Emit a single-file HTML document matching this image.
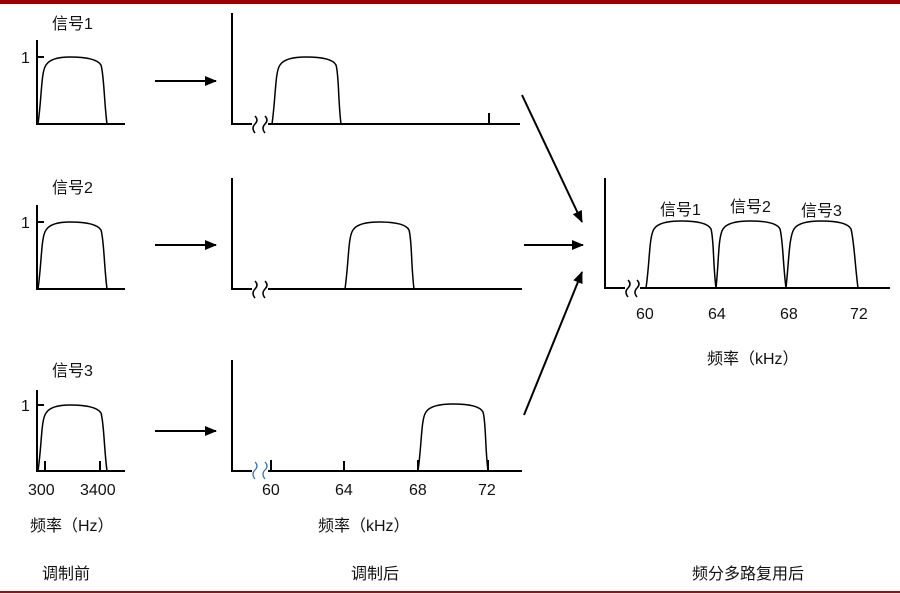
<!DOCTYPE html>
<html><head><meta charset="utf-8"><style>
html,body{margin:0;padding:0;background:#fff;}
svg{display:block;}
text{font-family:"Liberation Sans","Noto Sans CJK SC",sans-serif;font-size:16px;fill:#111;}
.ax{stroke:#000;stroke-width:2;fill:none;}
.c{stroke:#000;stroke-width:1.5;fill:none;}
.br{stroke:#2e6db4;stroke-width:1.2;fill:none;}
</style></head><body>
<svg width="900" height="594" viewBox="0 0 900 594" xmlns="http://www.w3.org/2000/svg">
<defs><marker id="ah" markerWidth="12" markerHeight="10" refX="11" refY="5" orient="auto" markerUnits="userSpaceOnUse"><path d="M0,0 L12,5 L0,10 z" fill="#000"/></marker></defs>
<rect x="0" y="0" width="900" height="4" fill="#9b0000"/>
<rect x="0" y="591" width="900" height="2" fill="#c00000"/>

<g>
<text x="52" y="29">信号1</text>
<path class="ax" d="M37,40 V124 H125 M37,57 H44"/>
<text x="21" y="63">1</text>
<path class="c" d="M38,124 C42,95 41,72 46,65 Q51,57 70,57 Q96,57 101,65 C104,75 104,100 107,124"/>

<text x="52" y="193">信号2</text>
<path class="ax" d="M37,205 V289 H125 M37,222 H44"/>
<text x="21" y="228">1</text>
<path class="c" d="M38,289 C42,260 41,237 46,230 Q51,222 70,222 Q96,222 101,230 C104,240 104,265 107,289"/>

<text x="52" y="376">信号3</text>
<path class="ax" d="M37,390 V471 H125 M37,405 H44 M45,471 V461 M100,471 V461"/>
<text x="21" y="411">1</text>
<path class="c" d="M38,471 C42,443 41,420 46,413 Q51,405 70,405 Q96,405 101,413 C104,423 104,448 107,471"/>
<text x="28" y="495">300</text>
<text x="80" y="495">3400</text>
<text x="30" y="531">频率（Hz）</text>
<text x="42" y="579">调制前</text>
</g>

<g stroke="#000" stroke-width="2" marker-end="url(#ah)">
<line x1="155" y1="81" x2="216" y2="81"/>
<line x1="155" y1="245" x2="216" y2="245"/>
<line x1="155" y1="431" x2="216" y2="431"/>
<line x1="522" y1="95" x2="582" y2="222"/>
<line x1="524" y1="245" x2="583" y2="245"/>
<line x1="524" y1="415" x2="582" y2="272"/>
</g>

<g>
<path class="ax" d="M232,13 V124 H252 M268,124 H520 M489,124 V113"/>
<path class="c" d="M255,116 q4,4 0,8 q-4,4 0,9 M265,116 q4,4 0,8 q-4,4 0,9"/>
<path class="c" d="M272,124 C276,95 275,72 280,65 Q285,57 306,57 Q332,57 336,65 C339,75 338,100 341,124"/>

<path class="ax" d="M232,178 V289 H252 M268,289 H522"/>
<path class="c" d="M255,281 q4,4 0,8 q-4,4 0,9 M265,281 q4,4 0,8 q-4,4 0,9"/>
<path class="c" d="M345,289 C349,260 348,237 353,230 Q358,222 379,222 Q405,222 409,230 C412,240 411,265 414,289"/>

<path class="ax" d="M232,360 V471 H252 M268,471 H522 M271,471 V460 M344,471 V461 M418,471 V460 M488,471 V460"/>
<path class="br" d="M255,462 q4,4 0,8 q-4,4 0,9 M265,462 q4,4 0,8 q-4,4 0,9"/>
<path class="c" d="M418,471 C422,442 421,419 426,412 Q431,404 453,404 Q479,404 483,412 C486,422 485,447 488,471"/>
<text x="262" y="495">60</text>
<text x="335" y="495">64</text>
<text x="409" y="495">68</text>
<text x="478" y="495">72</text>
<text x="318" y="531">频率（kHz）</text>
<text x="351" y="579">调制后</text>
</g>

<g>
<path class="ax" d="M605,178 V288 H625 M640,288 H890"/>
<path class="c" d="M628,280 q4,4 0,8 q-4,4 0,9 M637,280 q4,4 0,8 q-4,4 0,9"/>
<path class="c" d="M646,288 C650,260 649,237 654,229 Q659,221 681,221 Q707,221 711,229 C714,240 713,265 716,288
 C719,260 718,237 723,229 Q728,221 750,221 Q776,221 780,229 C783,240 783,265 786,288
 C789,260 789,237 794,229 Q799,221 821,221 Q847,221 851,229 C854,240 855,265 858,288"/>
<text x="660" y="215">信号1</text>
<text x="730" y="212">信号2</text>
<text x="801" y="216">信号3</text>
<text x="636" y="319">60</text>
<text x="708" y="319">64</text>
<text x="780" y="319">68</text>
<text x="850" y="319">72</text>
<text x="707" y="364">频率（kHz）</text>
<text x="692" y="579">频分多路复用后</text>
</g>
</svg>
</body></html>
